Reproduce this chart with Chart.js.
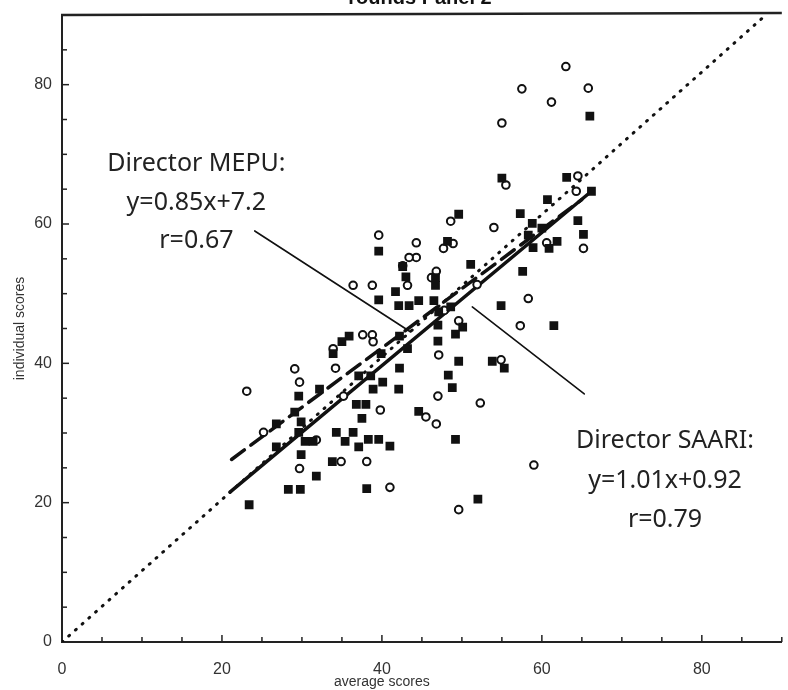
<!DOCTYPE html>
<html>
<head>
<meta charset="utf-8">
<script src="https://cdn.jsdelivr.net/npm/chart.js@4/dist/chart.umd.min.js"></script>
<style>
  html, body { margin: 0; background: #fff; }
  #wrap { width: 788px; height: 690px; position: relative; }
</style>
</head>
<body>
<div id="wrap"><canvas id="c"></canvas></div>
<script>
// Director MEPU (open circles)
const mepuX = [23.1, 63.0, 57.5, 65.8, 61.2, 55.0, 55.5, 64.5, 54.0, 36.4, 38.8, 37.6, 38.8, 38.9, 33.9,
  29.1, 34.2, 29.7, 35.2, 39.8, 25.2, 31.8, 29.7, 34.9, 38.1, 41.0, 47.0, 45.5, 46.8, 47.1, 47.8, 43.2,
  64.3, 48.6, 44.3, 47.7, 48.9, 44.3, 43.4, 42.6, 46.8, 46.2, 51.9, 60.6, 65.2, 58.3, 57.3, 49.6, 54.9,
  39.6, 59.0, 49.6, 52.3];
const mepuY = [36.0, 82.6, 79.4, 79.5, 77.5, 74.5, 65.6, 66.9, 59.5, 51.2, 51.2, 44.1, 44.1, 43.1, 42.1,
  39.2, 39.3, 37.3, 35.3, 33.3, 30.1, 29.0, 24.9, 25.9, 25.9, 22.2, 35.3, 32.3, 31.3, 41.2, 47.6, 51.2,
  64.7, 60.4, 57.3, 56.5, 57.2, 55.2, 55.2, 54.0, 53.2, 52.3, 51.3, 57.3, 56.5, 49.3, 45.4, 46.1, 40.5,
  58.4, 25.4, 19.0, 34.3];

// Director SAARI (filled squares)
const saariX = [66.0, 55.0, 63.1, 60.7, 57.3, 49.6, 64.5, 65.2, 66.2, 61.9, 60.9, 58.3, 58.8, 60.0, 58.9,
  48.2, 51.1, 57.6, 54.9, 61.5, 50.1, 49.2, 47.0, 49.6, 53.8, 55.3, 48.3, 48.8, 42.2, 42.1, 44.6, 43.4,
  46.5, 42.1, 47.1, 48.6, 47.0, 42.6, 43.0, 41.7, 46.7, 39.6, 39.6, 46.7, 35.9, 35.0, 33.9, 42.2, 39.9,
  43.2, 37.1, 38.6, 40.1, 38.9, 36.8, 38.0, 37.5, 29.6, 32.2, 29.1, 29.9, 26.8, 29.6, 30.4, 31.4, 34.3,
  36.4, 35.4, 37.1, 38.3, 39.6, 41.0, 26.8, 29.9, 33.8, 31.8, 28.3, 29.8, 38.1, 23.4, 44.6, 49.2, 52.0];
const saariY = [75.5, 66.6, 66.7, 63.5, 61.5, 61.4, 60.5, 58.5, 64.7, 57.5, 56.5, 58.4, 60.1, 59.4, 56.6,
  57.5, 54.2, 53.2, 48.3, 45.4, 45.2, 44.2, 43.2, 40.3, 40.3, 39.3, 38.3, 36.5, 39.3, 36.3, 49.0, 48.3,
  49.0, 48.3, 47.4, 48.1, 45.5, 53.9, 52.4, 50.3, 52.3, 56.1, 49.1, 51.2, 43.9, 43.1, 41.4, 43.9, 41.4,
  42.1, 38.2, 38.2, 37.3, 36.3, 34.1, 34.1, 32.1, 35.3, 36.3, 33.0, 31.6, 31.3, 30.1, 28.8, 28.8, 30.1,
  30.1, 28.8, 28.0, 29.1, 29.1, 28.1, 28.0, 26.9, 25.9, 23.8, 21.9, 21.9, 22.0, 19.7, 33.1, 29.1, 20.5];

// fitted lines as drawn (end points)
const mepuFitX = [21.2, 65.0];
const mepuFitY = [26.2, 63.5];
const saariFitX = [21.0, 66.2];
const saariFitY = [21.5, 64.7];
const diagX = [0, 88];
const diagY = [0, 90];

// callout lines
const mepuPtrX = [24.1, 43.6];
const mepuPtrY = [59.0, 44.5];
const saariPtrX = [51.3, 65.3];
const saariPtrY = [48.1, 35.6];

const mepuText = ["Director MEPU:", "y=0.85x+7.2", "r=0.67"];
const saariText = ["Director SAARI:", "y=1.01x+0.92", "r=0.79"];
const mepuTextPos = [16.8, [68.7, 63.0, 57.6]];
const saariTextPos = [75.4, [28.8, 23.1, 17.6]];

const xTicks = [0, 20, 40, 60, 80];
const yTicks = [0, 20, 40, 60, 80];

const zip = (xs, ys) => xs.map((x, i) => ({ x, y: ys[i] }));
const ink = "#111";

const lineSet = (xs, ys, width, dash, order) => ({
  type: "line",
  data: zip(xs, ys),
  borderColor: ink,
  borderWidth: width,
  borderDash: dash,
  borderCapStyle: "round",
  pointRadius: 0,
  fill: false,
  order,
});

const decor = {
  id: "decor",
  afterDraw(chart) {
    const { ctx, chartArea: a, scales: { x, y } } = chart;
    ctx.save();
    ctx.strokeStyle = "#222";
    ctx.lineWidth = 1.5;
    // inward ticks every 5
    for (let v = 5; v <= 90; v += 5) {
      const len = v % 20 === 0 ? 7 : 5;
      const px = x.getPixelForValue(v);
      ctx.beginPath(); ctx.moveTo(px, a.bottom); ctx.lineTo(px, a.bottom - len); ctx.stroke();
      const py = y.getPixelForValue(v);
      ctx.beginPath(); ctx.moveTo(a.left, py); ctx.lineTo(a.left + len, py); ctx.stroke();
    }
    // top frame
    ctx.lineWidth = 2.5;
    ctx.beginPath(); ctx.moveTo(a.left - 1, a.top); ctx.lineTo(a.right, a.top - 2); ctx.stroke();

    ctx.fillStyle = "#222";
    ctx.textAlign = "center";
    ctx.textBaseline = "middle";
    ctx.font = '25px "Noto Sans", sans-serif';
    mepuText.forEach((t, i) =>
      ctx.fillText(t, x.getPixelForValue(mepuTextPos[0]), y.getPixelForValue(mepuTextPos[1][i])));
    saariText.forEach((t, i) =>
      ctx.fillText(t, x.getPixelForValue(saariTextPos[0]), y.getPixelForValue(saariTextPos[1][i])));

    // x axis title
    ctx.font = '14px "Liberation Sans", sans-serif';
    ctx.fillStyle = "#333";
    ctx.fillText("average scores", x.getPixelForValue(40), 682);

    // clipped heading at the top
    ctx.font = 'bold 20px "Liberation Sans", sans-serif';
    ctx.fillStyle = "#111";
    ctx.textBaseline = "alphabetic";
    ctx.fillText("rounds Panel 2", 420, 4);
    ctx.restore();
  },
};

new Chart(document.getElementById("c"), {
  type: "scatter",
  data: {
    datasets: [
      {
        label: "Director MEPU",
        data: zip(mepuX, mepuY),
        pointStyle: "circle",
        pointRadius: 3.8,
        pointBorderWidth: 2,
        borderColor: ink,
        backgroundColor: "#fff",
        order: 1,
      },
      {
        label: "Director SAARI",
        data: zip(saariX, saariY),
        pointStyle: "rect",
        pointRadius: 6.2,
        pointBorderWidth: 0,
        borderColor: ink,
        backgroundColor: ink,
        order: 0,
      },
      lineSet(diagX, diagY, 3, [1, 8], 5),
      lineSet(mepuFitX, mepuFitY, 3.5, [16, 8], 4),
      lineSet(saariFitX, saariFitY, 3.5, [], 4),
      lineSet(mepuPtrX, mepuPtrY, 1.6, [], 3),
      lineSet(saariPtrX, saariPtrY, 1.6, [], 3),
    ],
  },
  options: {
    responsive: true,
    maintainAspectRatio: false,
    animation: false,
    layout: { padding: { top: 15, right: 0, left: 0, bottom: 0 } },
    plugins: { legend: { display: false }, tooltip: { enabled: false } },
    scales: {
      x: {
        type: "linear",
        min: 0,
        max: 90,
        afterFit: (s) => { s.height = 48; },
        afterBuildTicks: (s) => { s.ticks = xTicks.map((value) => ({ value })); },
        ticks: { font: { size: 16, family: "Liberation Sans" }, color: "#333", padding: 10, maxRotation: 0 },
        grid: { display: false },
        border: { display: true, color: "#222", width: 2 },
      },
      y: {
        min: 0,
        max: 90,
        afterFit: (s) => { s.width = 62; },
        afterBuildTicks: (s) => { s.ticks = yTicks.map((value) => ({ value })); },
        ticks: { font: { size: 16, family: "Liberation Sans" }, color: "#333", padding: 2 },
        grid: { display: false },
        border: { display: true, color: "#222", width: 2 },
        title: {
          display: true,
          text: "individual scores",
          font: { size: 14, family: "Liberation Sans" },
          color: "#333",
          padding: { top: 12, bottom: 0 },
        },
      },
    },
  },
  plugins: [decor],
});
</script>
</body>
</html>
